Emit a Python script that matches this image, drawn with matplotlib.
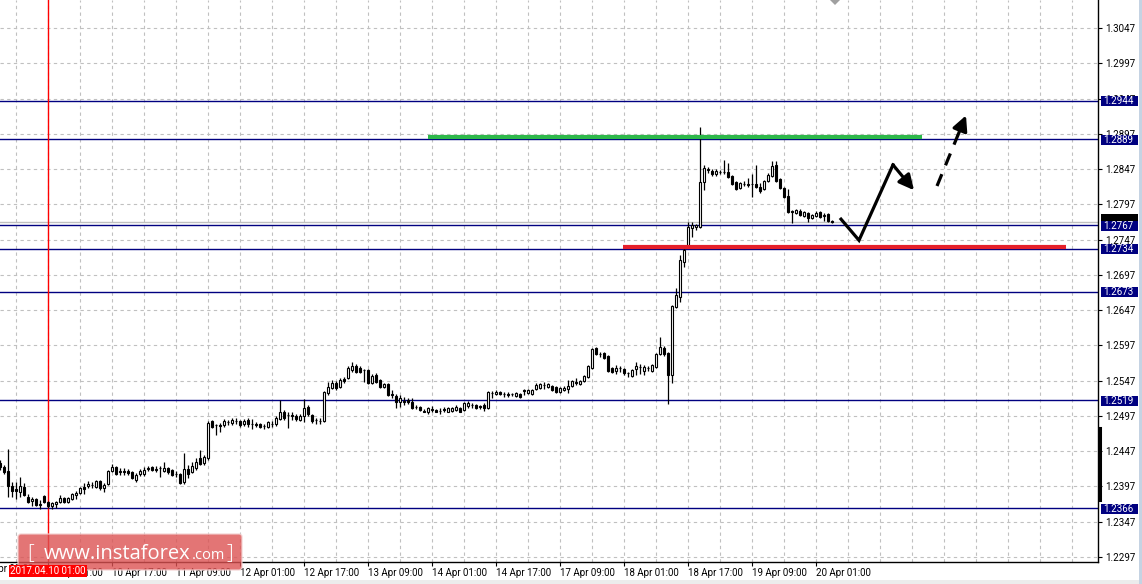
import matplotlib
matplotlib.use("Agg")
import matplotlib.pyplot as plt
from matplotlib.patches import Rectangle, FancyBboxPatch, Polygon
from matplotlib.transforms import blended_transform_factory

# ---------------- data (H1 candles) ----------------
opens = [
    1.2430, 1.2425, 1.2419, 1.2398, 1.2393, 1.2389, 1.2396, 1.2382, 1.2376, 1.2379,
    1.2371, 1.2383, 1.2375, 1.2369, 1.2372, 1.2375, 1.2381, 1.2375, 1.2379, 1.2385,
    1.2388, 1.2396, 1.2398, 1.2399, 1.2396, 1.2405, 1.2395, 1.2400, 1.2419, 1.2425,
    1.2418, 1.2419, 1.2419, 1.2418, 1.2406, 1.2415, 1.2415, 1.2422, 1.2425, 1.2422,
    1.2423, 1.2419, 1.2423, 1.2420, 1.2415, 1.2415, 1.2403, 1.2422, 1.2418, 1.2423,
    1.2437, 1.2430, 1.2437, 1.2490, 1.2484, 1.2484, 1.2484, 1.2488, 1.2487, 1.2490,
    1.2490, 1.2486, 1.2491, 1.2486, 1.2486, 1.2486, 1.2483, 1.2481, 1.2486, 1.2486,
    1.2493, 1.2503, 1.2498, 1.2498, 1.2497, 1.2491, 1.2497, 1.2510, 1.2498, 1.2491,
    1.2490, 1.2490, 1.2530, 1.2537, 1.2544, 1.2538, 1.2549, 1.2551, 1.2562, 1.2568,
    1.2565, 1.2562, 1.2562, 1.2544, 1.2555, 1.2548, 1.2538, 1.2542, 1.2528, 1.2525,
    1.2517, 1.2518, 1.2520, 1.2517, 1.2510, 1.2510, 1.2504, 1.2502, 1.2505, 1.2505,
    1.2504, 1.2507, 1.2503, 1.2504, 1.2505, 1.2508, 1.2505, 1.2511, 1.2512, 1.2512,
    1.2511, 1.2512, 1.2508, 1.2530, 1.2528, 1.2531, 1.2528, 1.2528, 1.2528, 1.2525,
    1.2528, 1.2534, 1.2530, 1.2528, 1.2535, 1.2537, 1.2541, 1.2538, 1.2539, 1.2538,
    1.2531, 1.2534, 1.2535, 1.2539, 1.2545, 1.2542, 1.2547, 1.2552, 1.2565, 1.2593,
    1.2585, 1.2586, 1.2582, 1.2565, 1.2561, 1.2565, 1.2563, 1.2558, 1.2554, 1.2563,
    1.2566, 1.2561, 1.2565, 1.2561, 1.2566, 1.2585, 1.2593, 1.2586, 1.2555, 1.2651,
    1.2666, 1.2715, 1.2738, 1.2764, 1.2765, 1.2765, 1.2829, 1.2846, 1.2844, 1.2840,
    1.2843, 1.2843, 1.2843, 1.2837, 1.2829, 1.2820, 1.2826, 1.2826, 1.2826, 1.2826,
    1.2822, 1.2819, 1.2830, 1.2837, 1.2853, 1.2833, 1.2820, 1.2809, 1.2788, 1.2785,
    1.2788, 1.2781, 1.2785, 1.2778, 1.2781, 1.2786, 1.2781, 1.2784, 1.2774,
]
highs = [
    1.2435, 1.2427, 1.2450, 1.2403, 1.2403, 1.2410, 1.2402, 1.2386, 1.2382, 1.2381,
    1.2378, 1.2385, 1.2376, 1.2375, 1.2376, 1.2385, 1.2382, 1.2382, 1.2388, 1.2390,
    1.2396, 1.2402, 1.2405, 1.2403, 1.2406, 1.2406, 1.2402, 1.2420, 1.2429, 1.2426,
    1.2423, 1.2423, 1.2422, 1.2419, 1.2416, 1.2422, 1.2425, 1.2426, 1.2426, 1.2426,
    1.2426, 1.2432, 1.2425, 1.2422, 1.2419, 1.2416, 1.2444, 1.2427, 1.2432, 1.2437,
    1.2449, 1.2442, 1.2490, 1.2491, 1.2486, 1.2487, 1.2493, 1.2491, 1.2494, 1.2494,
    1.2491, 1.2493, 1.2494, 1.2493, 1.2488, 1.2487, 1.2486, 1.2490, 1.2490, 1.2497,
    1.2520, 1.2505, 1.2503, 1.2502, 1.2500, 1.2500, 1.2521, 1.2512, 1.2500, 1.2494,
    1.2494, 1.2532, 1.2545, 1.2548, 1.2547, 1.2551, 1.2552, 1.2568, 1.2573, 1.2571,
    1.2568, 1.2563, 1.2563, 1.2557, 1.2558, 1.2549, 1.2544, 1.2544, 1.2534, 1.2528,
    1.2527, 1.2524, 1.2522, 1.2522, 1.2512, 1.2511, 1.2507, 1.2510, 1.2511, 1.2507,
    1.2508, 1.2510, 1.2510, 1.2510, 1.2512, 1.2510, 1.2517, 1.2518, 1.2515, 1.2514,
    1.2512, 1.2515, 1.2532, 1.2532, 1.2534, 1.2532, 1.2531, 1.2531, 1.2530, 1.2531,
    1.2530, 1.2535, 1.2535, 1.2535, 1.2544, 1.2544, 1.2545, 1.2544, 1.2541, 1.2539,
    1.2538, 1.2539, 1.2548, 1.2548, 1.2551, 1.2548, 1.2555, 1.2569, 1.2593, 1.2595,
    1.2588, 1.2588, 1.2583, 1.2566, 1.2569, 1.2568, 1.2565, 1.2559, 1.2563, 1.2573,
    1.2571, 1.2569, 1.2568, 1.2571, 1.2586, 1.2609, 1.2596, 1.2588, 1.2654, 1.2678,
    1.2725, 1.2739, 1.2772, 1.2772, 1.2769, 1.2907, 1.2853, 1.2850, 1.2847, 1.2847,
    1.2846, 1.2860, 1.2856, 1.2839, 1.2830, 1.2829, 1.2830, 1.2834, 1.2840, 1.2853,
    1.2827, 1.2832, 1.2841, 1.2858, 1.2858, 1.2834, 1.2822, 1.2819, 1.2789, 1.2790,
    1.2790, 1.2788, 1.2786, 1.2784, 1.2788, 1.2788, 1.2785, 1.2785, 1.2775,
]
lows = [
    1.2420, 1.2415, 1.2382, 1.2382, 1.2379, 1.2382, 1.2383, 1.2373, 1.2369, 1.2369,
    1.2365, 1.2373, 1.2366, 1.2365, 1.2366, 1.2373, 1.2373, 1.2373, 1.2378, 1.2379,
    1.2386, 1.2386, 1.2395, 1.2395, 1.2395, 1.2392, 1.2389, 1.2399, 1.2418, 1.2413,
    1.2413, 1.2413, 1.2413, 1.2408, 1.2403, 1.2412, 1.2412, 1.2419, 1.2419, 1.2418,
    1.2410, 1.2418, 1.2415, 1.2412, 1.2410, 1.2400, 1.2400, 1.2409, 1.2416, 1.2420,
    1.2427, 1.2427, 1.2434, 1.2480, 1.2470, 1.2474, 1.2481, 1.2484, 1.2484, 1.2486,
    1.2481, 1.2483, 1.2481, 1.2478, 1.2481, 1.2480, 1.2478, 1.2480, 1.2481, 1.2483,
    1.2491, 1.2491, 1.2480, 1.2491, 1.2490, 1.2490, 1.2488, 1.2497, 1.2487, 1.2486,
    1.2486, 1.2488, 1.2527, 1.2535, 1.2534, 1.2537, 1.2544, 1.2549, 1.2559, 1.2558,
    1.2558, 1.2545, 1.2542, 1.2542, 1.2544, 1.2537, 1.2537, 1.2525, 1.2522, 1.2508,
    1.2510, 1.2512, 1.2514, 1.2507, 1.2507, 1.2504, 1.2502, 1.2500, 1.2503, 1.2502,
    1.2500, 1.2502, 1.2502, 1.2503, 1.2504, 1.2502, 1.2504, 1.2508, 1.2508, 1.2507,
    1.2507, 1.2504, 1.2507, 1.2522, 1.2527, 1.2527, 1.2524, 1.2524, 1.2525, 1.2524,
    1.2522, 1.2527, 1.2528, 1.2527, 1.2534, 1.2535, 1.2535, 1.2537, 1.2532, 1.2530,
    1.2530, 1.2532, 1.2530, 1.2538, 1.2541, 1.2541, 1.2545, 1.2551, 1.2563, 1.2583,
    1.2581, 1.2578, 1.2559, 1.2558, 1.2557, 1.2559, 1.2555, 1.2552, 1.2552, 1.2555,
    1.2557, 1.2555, 1.2561, 1.2559, 1.2565, 1.2583, 1.2582, 1.2514, 1.2544, 1.2650,
    1.2658, 1.2708, 1.2735, 1.2751, 1.2761, 1.2764, 1.2817, 1.2841, 1.2837, 1.2837,
    1.2840, 1.2840, 1.2834, 1.2824, 1.2817, 1.2819, 1.2823, 1.2822, 1.2807, 1.2820,
    1.2813, 1.2817, 1.2829, 1.2836, 1.2829, 1.2819, 1.2806, 1.2785, 1.2771, 1.2784,
    1.2781, 1.2779, 1.2772, 1.2776, 1.2779, 1.2778, 1.2774, 1.2772, 1.2771,
]
closes = [
    1.2425, 1.2418, 1.2398, 1.2390, 1.2390, 1.2398, 1.2385, 1.2375, 1.2379, 1.2371,
    1.2372, 1.2375, 1.2369, 1.2373, 1.2375, 1.2381, 1.2375, 1.2381, 1.2386, 1.2388,
    1.2395, 1.2393, 1.2400, 1.2399, 1.2405, 1.2395, 1.2399, 1.2419, 1.2425, 1.2415,
    1.2419, 1.2418, 1.2416, 1.2409, 1.2413, 1.2419, 1.2420, 1.2423, 1.2420, 1.2420,
    1.2423, 1.2423, 1.2418, 1.2413, 1.2415, 1.2402, 1.2422, 1.2415, 1.2426, 1.2432,
    1.2429, 1.2439, 1.2487, 1.2481, 1.2484, 1.2483, 1.2490, 1.2488, 1.2491, 1.2490,
    1.2484, 1.2490, 1.2486, 1.2486, 1.2484, 1.2481, 1.2483, 1.2488, 1.2486, 1.2494,
    1.2503, 1.2494, 1.2498, 1.2497, 1.2493, 1.2497, 1.2508, 1.2500, 1.2490, 1.2491,
    1.2490, 1.2531, 1.2538, 1.2544, 1.2537, 1.2548, 1.2547, 1.2565, 1.2568, 1.2559,
    1.2559, 1.2562, 1.2544, 1.2554, 1.2545, 1.2538, 1.2542, 1.2527, 1.2527, 1.2517,
    1.2522, 1.2517, 1.2517, 1.2508, 1.2510, 1.2505, 1.2503, 1.2508, 1.2507, 1.2503,
    1.2504, 1.2505, 1.2508, 1.2508, 1.2510, 1.2503, 1.2515, 1.2515, 1.2512, 1.2508,
    1.2510, 1.2508, 1.2531, 1.2530, 1.2531, 1.2528, 1.2528, 1.2527, 1.2528, 1.2530,
    1.2524, 1.2532, 1.2534, 1.2534, 1.2541, 1.2542, 1.2541, 1.2542, 1.2534, 1.2531,
    1.2537, 1.2537, 1.2539, 1.2547, 1.2544, 1.2547, 1.2554, 1.2568, 1.2592, 1.2585,
    1.2585, 1.2579, 1.2561, 1.2559, 1.2565, 1.2565, 1.2558, 1.2558, 1.2562, 1.2568,
    1.2566, 1.2566, 1.2565, 1.2569, 1.2585, 1.2595, 1.2585, 1.2555, 1.2653, 1.2668,
    1.2718, 1.2732, 1.2765, 1.2767, 1.2767, 1.2829, 1.2849, 1.2847, 1.2840, 1.2844,
    1.2843, 1.2843, 1.2836, 1.2826, 1.2819, 1.2827, 1.2826, 1.2824, 1.2826, 1.2822,
    1.2816, 1.2830, 1.2839, 1.2851, 1.2830, 1.2820, 1.2807, 1.2786, 1.2786, 1.2789,
    1.2782, 1.2786, 1.2778, 1.2782, 1.2785, 1.2779, 1.2781, 1.2774, 1.2772,
]

time_labels = ["7 Apr 09:00", "10 Apr 01:00", "10 Apr 17:00", "11 Apr 09:00",
               "12 Apr 01:00", "12 Apr 17:00", "13 Apr 09:00", "14 Apr 01:00",
               "14 Apr 17:00", "17 Apr 09:00", "18 Apr 01:00", "18 Apr 17:00",
               "19 Apr 09:00", "20 Apr 01:00"]
time_label_bars = [-4, 12, 28, 44, 60, 76, 92, 108, 124, 140, 156, 172, 188, 204]

price_ticks = [1.2297, 1.2347, 1.2397, 1.2447, 1.2497, 1.2547, 1.2597, 1.2647,
               1.2697, 1.2747, 1.2797, 1.2847, 1.2897, 1.2947, 1.2997, 1.3047]
level_prices = [1.2944, 1.2889, 1.2767, 1.2734, 1.2673, 1.2519, 1.2366]
bid_price = 1.2772

vline_bar = 12
vline_label = "2017.04.10 01:00"

resistance = (107, 230.5, 1.2892)   # green line: start bar, end bar, price
support = (155.75, 266.5, 1.2736)   # red line
path_solid = [(210.25, 1.2776), (214.75, 1.2746), (223.25, 1.2853), (228.5, 1.2817)]
path_dashed = [(234.25, 1.2823), (241.5, 1.2923)]

# ---------------- figure ----------------
W, H = 1142, 584
fig = plt.figure(figsize=(W / 100, H / 100), dpi=100)
fig.patch.set_facecolor("white")
ax = fig.add_axes([0, 22 / H, 1098 / W, 562 / H])
ax.set_xlim(0, 274.5)
ax.set_ylim(1.22899, 1.30867)

FONT = "Roboto"
FS = 7

for s in ["left", "top"]:
    ax.spines[s].set_visible(False)
for s in ["right", "bottom"]:
    ax.spines[s].set_color("black")
    ax.spines[s].set_linewidth(1.0)

# grid
for p in price_ticks:
    ax.axhline(p, color="#c0c0c0", lw=0.8, ls=(0, (3, 3)), zorder=0)
for g in range(4, 275, 8):
    ax.axvline(g, color="#c0c0c0", lw=0.8, ls=(0, (3, 3)), zorder=0)

# y axis on the right
ax.yaxis.tick_right()
ax.set_yticks(price_ticks)
ax.set_yticklabels([f"{p:.4f}" for p in price_ticks], fontsize=FS, family=FONT)
ax.tick_params(axis="y", length=3, width=0.8, pad=2.5, colors="black")

# x axis ticks
ax.set_xticks(time_label_bars[1:])
ax.set_xticklabels(time_labels[1:], fontsize=FS, family=FONT)
for lab in ax.get_xticklabels():
    lab.set_horizontalalignment("left")
ax.tick_params(axis="x", length=3, width=0.8, pad=1.5, colors="black")
ax.text(time_label_bars[0], -0.003, time_labels[0],
        transform=blended_transform_factory(ax.transData, ax.transAxes),
        fontsize=FS, family=FONT, ha="left", va="top", clip_on=False)

# horizontal level lines (navy)
for p in level_prices:
    ax.axhline(p, color="#000080", lw=1.0, zorder=1)
# bid line
ax.axhline(bid_price, color="#c0c0c0", lw=1.0, zorder=1)

# vertical red line
ax.axvline(vline_bar, color="red", lw=1.0, zorder=1)

# candles
for k in range(len(opens)):
    o, h, l, c = opens[k], highs[k], lows[k], closes[k]
    ax.plot([k, k], [l, h], color="black", lw=0.9, zorder=3, solid_capstyle="butt")
    bottom = min(o, c)
    height = max(abs(c - o), 0.00002)
    face = "white" if c >= o else "black"
    ax.add_patch(Rectangle((k - 0.3, bottom), 0.6, height, facecolor=face,
                           edgecolor="black", lw=0.8, zorder=4))

# support / resistance thick lines
ax.plot([resistance[0], resistance[1]], [resistance[2]] * 2, color="#2db84a", lw=3.0,
        zorder=5, solid_capstyle="butt")
ax.plot([support[0], support[1]], [support[2]] * 2, color="#e5202a", lw=3.0,
        zorder=5, solid_capstyle="butt")

# arrows
xs = [p[0] for p in path_solid]
ys = [p[1] for p in path_solid]
ax.plot(xs[:-1], ys[:-1], color="black", lw=2.3, zorder=6, solid_joinstyle="miter")
ax.annotate("", xy=path_solid[-1], xytext=path_solid[-2],
            arrowprops=dict(arrowstyle="-|>,head_length=0.9,head_width=0.45", color="black",
                            lw=2.3, shrinkA=0, shrinkB=0), zorder=6)
(x0, y0), (x1, y1) = path_dashed
fr = 0.72
xm, ym = x0 + (x1 - x0) * fr, y0 + (y1 - y0) * fr
ax.plot([x0, xm], [y0, ym], color="black", lw=2.3, ls=(0, (4, 3)), zorder=6)
ax.annotate("", xy=(x1, y1), xytext=(xm, ym),
            arrowprops=dict(arrowstyle="-|>,head_length=0.9,head_width=0.45", color="black",
                            lw=2.3, shrinkA=0, shrinkB=0), zorder=6)

# price labels for levels (navy boxes) and bid (black box)
trans = blended_transform_factory(ax.transAxes, ax.transData)
bx = 1101 / 1098
bw = 37 / 1098
bh = 10 / 7053
ax.add_patch(Rectangle((bx, bid_price - bh / 2 + 0.0004), bw, bh, transform=trans,
                       facecolor="black", edgecolor="none", clip_on=False, zorder=7))
for p in level_prices:
    ax.add_patch(Rectangle((bx, p - bh / 2 - 0.00008), bw, bh, transform=trans,
                           facecolor="#000080", edgecolor="none", clip_on=False, zorder=8))
    ax.text(bx + 0.002, p - 0.00008, f"{p:.4f}", transform=trans, color="white",
            fontsize=FS, family=FONT, ha="left", va="center", clip_on=False, zorder=9)

# black bar on right axis
ax.plot([1.0015, 1.0015], [1.2378, 1.2480], transform=trans, color="black", lw=2.2,
        clip_on=False, zorder=9)

# ---------------- overlay decorations in pixel coords ----------------
ov = fig.add_axes([0, 0, 1, 1], zorder=20)
ov.set_xlim(0, W)
ov.set_ylim(H, 0)
ov.axis("off")
ov.patch.set_alpha(0)

# bottom band and right border
ov.add_patch(Rectangle((0, 580), W, 4, facecolor="#ececec", edgecolor="none"))
ov.add_patch(Rectangle((1139, 0), 3, H, facecolor="#c5d3e3", edgecolor="none"))
# shift marker
ov.add_patch(Polygon([(830, 0), (840, 0), (835, 5)], closed=True, facecolor="#a0a0a0",
                     edgecolor="none"))

# watermark
ov.add_patch(FancyBboxPatch((18, 534), 224, 36, boxstyle="round,pad=0,rounding_size=3",
                            facecolor="#dc5252", alpha=0.8, edgecolor="#f3d0d0", lw=1.0,
                            zorder=3))
ov.text(27, 553, "[", color="white", fontsize=15, family="Open Sans", ha="left",
        va="center", zorder=4, fontweight="light")
ov.text(44, 559, "www.instaforex", color="white", fontsize=14.5, family="Open Sans",
        ha="left", va="baseline", zorder=4)
ov.text(192, 559, ".com", color="white", fontsize=10.5, family="Open Sans",
        ha="left", va="baseline", zorder=4)
ov.text(226, 553, "]", color="white", fontsize=15, family="Open Sans", ha="left",
        va="center", zorder=4, fontweight="light")

# red vertical line label (drawn over the watermark edge)
ov.add_patch(Rectangle((9, 565), 78, 12, facecolor="red", edgecolor="none", zorder=5))
ov.text(48, 571, vline_label, color="white", fontsize=FS, family=FONT, ha="center",
        va="center", zorder=6)

fig.savefig("out.png", dpi=100)
